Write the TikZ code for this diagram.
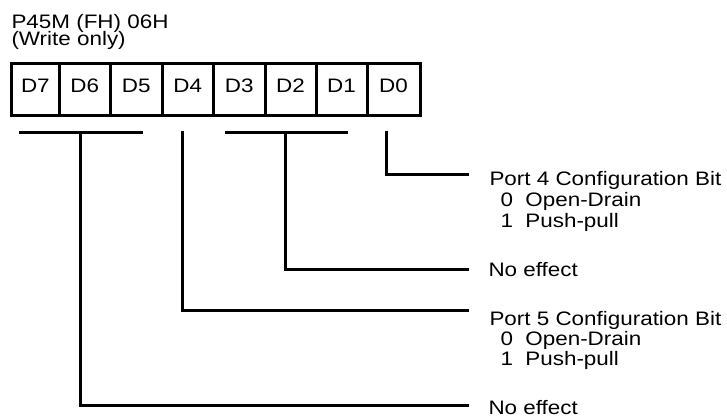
\documentclass[tikz,border=0pt]{standalone}
\usepackage{fontspec}
\setmainfont{Liberation Sans}[FakeStretch=1.15]
\begin{document}
\begin{tikzpicture}[x=1pt,y=-1pt,line width=3pt,
  txt/.style={font=\fontsize{19.5}{21}\selectfont,inner sep=0,anchor=base west},
  cell/.style={draw,line width=3pt,minimum height=51pt,inner sep=0,
    font=\fontsize{19.5}{21}\selectfont,text height=14pt,text depth=8.4pt},
  wire/.style={line width=3pt}]
\useasboundingbox (0,0) rectangle (727,417);
% title
\node[txt] (title) at (10,28.3) {P45M (FH) 06H};
\node[txt] (mode) at (10,46) {(Write only)};
% register cells
\node[cell,minimum width=47.3pt] (d7) at (35.35,89.5) {D7};
\node[cell,minimum width=51.5pt] (d6) at (84.75,89.5) {D6};
\node[cell,minimum width=51.5pt] (d5) at (136.25,89.5) {D5};
\node[cell,minimum width=51.5pt] (d4) at (187.75,89.5) {D4};
\node[cell,minimum width=51.5pt] (d3) at (239.25,89.5) {D3};
\node[cell,minimum width=51pt] (d2) at (290.5,89.5) {D2};
\node[cell,minimum width=51pt] (d1) at (341.5,89.5) {D1};
\node[cell,minimum width=53pt] (d0) at (393.5,89.5) {D0};
% labels
\node[txt] (p4) at (488,185.7) {Port 4 Configuration Bit};
\node[txt] (p4a) at (499,206.7) {0\ \ Open-Drain};
\node[txt] (p4b) at (499,227.7) {1\ \ Push-pull};
\node[txt] (ne1) at (487,276.7) {No effect};
\node[txt] (p5) at (488,325) {Port 5 Configuration Bit};
\node[txt] (p5a) at (499,345.7) {0\ \ Open-Drain};
\node[txt] (p5b) at (499,365.7) {1\ \ Push-pull};
\node[txt] (ne2) at (487,414) {No effect};
% connector coordinates
\coordinate (b765l) at (19.3,132.7);
\coordinate (b765r) at (142.7,132.7);
\coordinate (b765m) at (80,132.7);
\coordinate (b321l) at (225,132.7);
\coordinate (b321r) at (348.3,132.7);
\coordinate (b321m) at (285.7,132.7);
\coordinate (s4) at (182.7,131);
\coordinate (s0) at (386.7,131);
\coordinate (e0) at (469,174);
\coordinate (e321) at (469,269.3);
\coordinate (e4) at (469,310.7);
\coordinate (e765) at (469,405.7);
% connectors
\draw[wire] (b765l) -- (b765r);
\draw[wire] (b321l) -- (b321r);
\draw[wire] (s0) |- (e0);
\draw[wire] (b321m) |- (e321);
\draw[wire] (s4) |- (e4);
\draw[wire] (b765m) |- (e765);
\end{tikzpicture}
\end{document}
